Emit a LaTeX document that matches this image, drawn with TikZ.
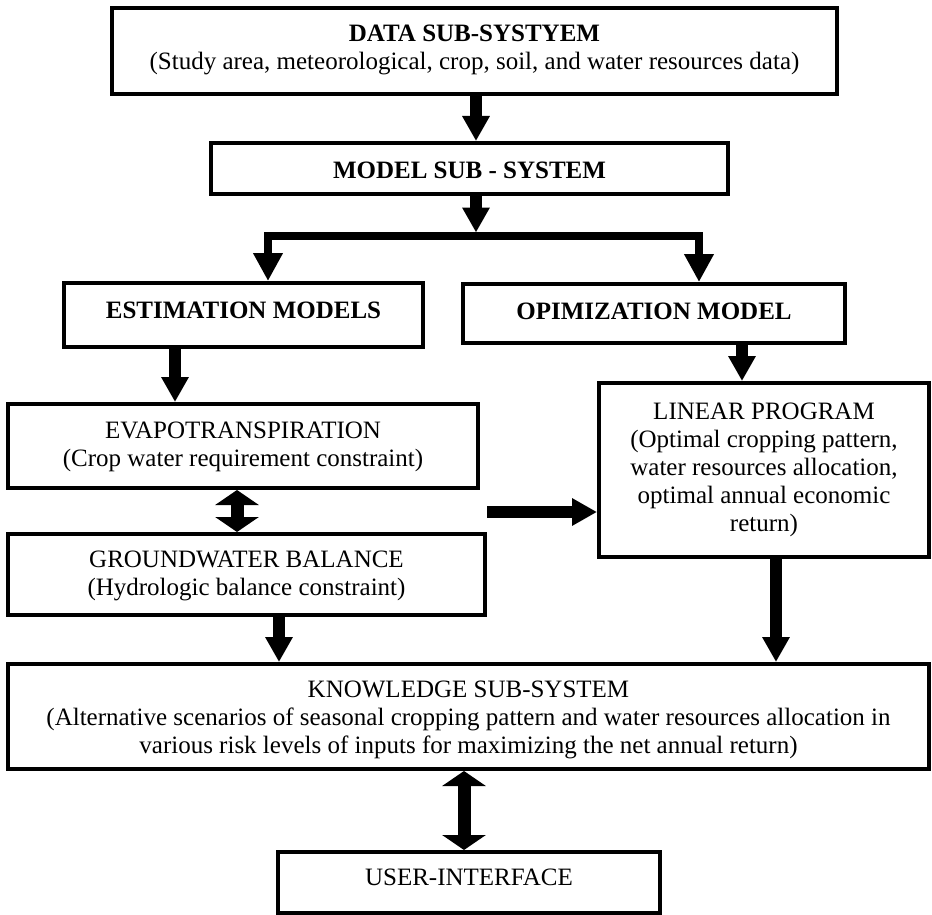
\documentclass[tikz,border=0pt]{standalone}
\usepackage{fontspec}
\setmainfont{Liberation Serif}
\usetikzlibrary{arrows.meta}
\begin{document}
\begin{tikzpicture}[x=0.5pt,y=-0.5pt,
  box/.style={draw, line width=2pt, rectangle, inner sep=0pt, outer sep=1pt},
  txt/.style={font=\fontsize{12.5}{14}\selectfont, align=center, inner sep=0pt},
  fat/.style={line width=6pt, -{Triangle[length=12.5pt,width=13pt]}},
  branch/.style={line width=4pt, line join=miter, -{Triangle[length=14pt,width=14pt]}},
  dbl/.style={line width=6.5pt, {Triangle[length=7.5pt,width=21.5pt]}-{Triangle[length=7.5pt,width=21.5pt]}}
]
\useasboundingbox (0,0) rectangle (932,915);
\fill[white] (0,0) rectangle (932,915);

% boxes
\node[box, minimum width=362.5pt, minimum height=43pt]   (data)  at (474.5,51) {};
\node[box, minimum width=258.5pt, minimum height=25.5pt] (model) at (469.5,168.5) {};
\node[box, minimum width=179.5pt, minimum height=32pt]   (est)   at (243.5,315) {};
\node[box, minimum width=191pt,   minimum height=29.5pt] (opt)   at (654,313.5) {};
\node[box, minimum width=235pt,   minimum height=42pt]   (evapo) at (243,446) {};
\node[box, minimum width=238.5pt, minimum height=40.5pt] (gw)    at (246.5,574.5) {};
\node[box, minimum width=165pt,   minimum height=87pt]   (lp)    at (764,470) {};
\node[box, minimum width=460.5pt, minimum height=52.5pt] (know)  at (468.5,716.5) {};
\node[box, minimum width=191pt,   minimum height=30.5pt] (ui)    at (469,882.5) {};

% texts
\node[txt] (data-t)  at (474.5,49.5) {\textbf{DATA SUB-SYSTYEM}\\(Study area, meteorological, crop, soil, and water resources data)};
\node[txt] (model-t) at (469.5,170) {\textbf{MODEL SUB - SYSTEM}};
\node[txt] (est-t)   at (243.5,310.5) {\textbf{ESTIMATION MODELS}};
\node[txt] (opt-t)   at (654,311) {\textbf{OPIMIZATION MODEL}};
\node[txt] (evapo-t) at (243,446.5) {EVAPOTRANSPIRATION\\(Crop water requirement constraint)};
\node[txt] (gw-t)    at (246.5,576) {GROUNDWATER BALANCE\\(Hydrologic balance constraint)};
\node[txt] (lp-t)    at (764,469.5) {LINEAR PROGRAM\\(Optimal cropping pattern,\\water resources allocation,\\optimal annual economic\\return)};
\node[txt] (know-t)  at (468.5,720) {KNOWLEDGE SUB-SYSTEM\\(Alternative scenarios of seasonal cropping pattern and water resources allocation in\\various risk levels of inputs for maximizing the net annual return)};
\node[txt] (ui-t)    at (469,877.5) {USER-INTERFACE};

% connectors
\coordinate (split) at (476,236);
\coordinate (bartop) at (476,232.5);
\coordinate (mid) at (487,512);

\draw[fat] (476,0 |- data.south) -- (476,0 |- model.north);
\draw[fat] (476,0 |- model.south) -- (bartop);
\draw[branch] (split) -| (268,0 |- est.north);
\draw[branch] (split) -| (699,0 |- opt.north);
\draw[fat] (175,0 |- est.south) -- (175,0 |- evapo.north);
\draw[fat] (742,0 |- opt.south) -- (742,0 |- lp.north);
\draw[dbl] (237,0 |- evapo.south) -- (237,0 |- gw.north);
\draw[fat] (mid) -- (lp.west |- mid);
\draw[fat] (279,0 |- gw.south) -- (279,0 |- know.north);
\draw[fat] (776,0 |- lp.south) -- (776,0 |- know.north);
\draw[dbl] (464,0 |- know.south) -- (464,0 |- ui.north);
\end{tikzpicture}
\end{document}
